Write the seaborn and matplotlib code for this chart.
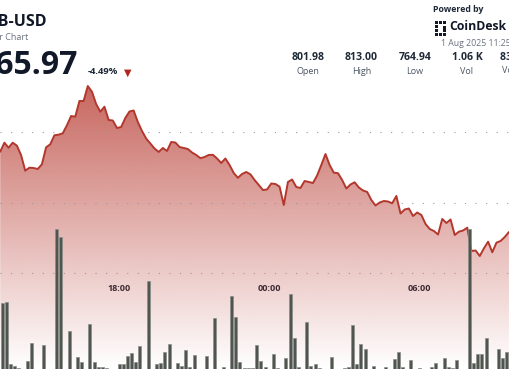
import numpy as np
import pandas as pd
import seaborn as sns
import matplotlib.pyplot as plt
from matplotlib.patches import Rectangle

# BNB-USD, 10 minute samples starting 13:15 (hours since midnight of the first day)
start_hour = 13.25
price = [794.43, 796.98, 795.56, 796.98, 796.13, 793.50, 789.06, 789.91, 789.82, 789.54,
         790.87, 795.67, 796.52, 799.07, 799.24, 799.63, 801.89, 804.52, 804.33, 808.76,
         808.76, 813.00, 811.39, 807.92, 805.74, 807.15, 803.39, 803.25, 801.13, 801.41,
         803.96, 805.80, 806.08, 802.83, 800.28, 798.16, 796.75, 795.34, 794.35, 795.48,
         794.63, 797.17, 797.03, 795.76, 795.48, 795.19, 794.20, 793.50, 792.59, 792.93,
         793.50, 793.55, 792.51, 791.24, 792.51, 790.67, 788.41, 787.05, 788.13, 788.69,
         788.04, 786.43, 785.02, 783.60, 783.75, 785.44, 785.30, 784.54, 779.36, 785.87,
         786.57, 784.45, 784.17, 786.15, 785.87, 785.58, 787.70, 790.67, 793.78, 790.67,
         788.49, 788.35, 786.43, 784.03, 785.16, 785.78, 784.31, 783.46, 783.04, 780.78,
         779.22, 780.07, 780.49, 780.35, 779.84, 781.91, 776.96, 778.09, 778.37, 776.25,
         777.24, 776.54, 773.99, 772.58, 772.01, 771.02, 775.41, 774.27, 775.26, 770.88,
         771.82, 772.15, 772.95, 766.36, 766.50, 764.94, 767.12, 768.99, 765.99, 768.71,
         769.19, 770.32, 771.73]

# volume per 10 minute bar (arbitrary units)
volume = [65.7, 67.3, 5.0, 3.0, 1.3, 0.5, 8.3, 25.7, 0.5, 0.5,
          24.0, 0.5, 0.5, 139.7, 132.3, 0.5, 38.3, 0.5, 11.7, 6.7,
          0.5, 44.7, 7.3, 2.0, 2.0, 1.5, 0.5, 0.5, 5.0, 5.0,
          13.0, 15.7, 6.7, 23.0, 0.5, 88.0, 0.5, 4.7, 6.0, 16.7,
          24.7, 0.5, 5.7, 3.3, 19.3, 2.3, 14.0, 0.5, 0.5, 13.0,
          0.5, 50.7, 0.5, 2.0, 0.5, 73.0, 51.7, 7.3, 1.5, 1.5,
          1.0, 24.3, 8.3, 2.3, 0.5, 14.7, 1.0, 0.5, 10.7, 75.0,
          30.7, 2.0, 0.5, 47.0, 3.0, 5.0, 1.0, 0.5, 0.5, 12.3,
          0.5, 0.5, 1.0, 2.0, 44.0, 5.0, 25.0, 19.7, 0.5, 3.0,
          0.5, 0.5, 2.0, 0.5, 10.0, 16.7, 2.0, 0.5, 9.0, 0.5,
          1.0, 0.5, 0.5, 2.0, 5.7, 0.5, 10.7, 2.0, 1.0, 9.0,
          0.5, 0.5, 139.7, 5.7, 14.7, 15.0, 30.7, 0.5, 0.5, 20.0,
          10.7, 16.7]

tick_hours = [18, 24, 30]
tick_labels = ['18:00', '00:00', '06:00']
grid_prices = [800, 780, 760]

stat_values = ['801.98', '813.00', '764.94', '1.06 K', '832.10 K']
stat_names = ['Open', 'High', 'Low', 'Vol', 'Vol (USD)']

line_df = pd.DataFrame({'hour': start_hour + np.arange(len(price)) / 6, 'price': price})
bar_df = pd.DataFrame({'hour': start_hour + (np.arange(len(volume)) + 0.5) / 6, 'volume': volume})

sns.set_style('white')
plt.rcParams['font.family'] = ['Open Sans', 'DejaVu Sans']

fig = plt.figure(figsize=(5.1, 3.69), dpi=100)
ax = fig.add_axes([0, 0, 1, 1])
ax.set_facecolor('none')

ybot, ytop = 733.0, 837.31
xmin, xmax = 13.2417, 33.625

# area under the price line with a vertical red gradient
fill = ax.fill_between(line_df['hour'], line_df['price'], ybot, color='none', lw=0)
grad = np.zeros((256, 1, 4))
grad[..., 0] = 180 / 255
grad[..., 1] = 48 / 255
grad[..., 2] = 38 / 255
grad[..., 3] = np.linspace(0.0, 0.8, 256)[:, None]
im = ax.imshow(grad, extent=[xmin, xmax, ybot, 820], origin='lower',
               aspect='auto', zorder=1, interpolation='bilinear')
im.set_clip_path(fill.get_paths()[0], ax.transData)

for g in grid_prices:
    ax.axhline(g, color='#9a9a9a', lw=0.8, ls=(0, (1, 8.5)), zorder=2)

sns.lineplot(data=line_df, x='hour', y='price', ax=ax, color='#b3372c',
             lw=1.4, zorder=4)

ax.set_xlim(xmin, xmax)
ax.set_ylim(ybot, ytop)
for s in ax.spines.values():
    s.set_visible(False)
ax.spines['bottom'].set_position(('data', 760))
ax.set_yticks([])
ax.tick_params(axis='x', length=1.5, width=0.8, color='#999999', pad=6)
ax.set_xlabel('')
ax.set_ylabel('')

# volume bars on their own scale
ax2 = ax.twinx()
sns.barplot(data=bar_df, x='hour', y='volume', ax=ax2, native_scale=True,
            width=0.72, color='#50554f', edgecolor='#8a8e89', linewidth=0.5,
            errorbar=None, saturation=1)
ax2.set_ylim(0, 369)
ax2.set_xlim(xmin, xmax)
ax2.axis('off')
ax.set_xticks(tick_hours)
ax.set_xticklabels(tick_labels, fontsize=6.5, fontweight='bold', color='#1f2937')

# header
W, H = 510, 369
def px(x, y):
    return x / W, 1 - y / H

fig.text(*px(47, 22), 'BNB-USD', ha='right', va='center', fontsize=11.5,
         fontweight='bold', color='#111827')
fig.text(*px(28, 37), '24 Hour Chart', ha='right', va='center', fontsize=6.5,
         color='#6b7280')
fig.text(*px(78, 65), '765.97', ha='right', va='center', fontsize=23,
         fontweight='bold', color='#111827')
fig.text(*px(88, 72), '-4.49%', ha='left', va='center', fontsize=6.8,
         fontweight='bold', color='#1f2937')
fig.text(*px(128, 72.5), '\u25BC', ha='center', va='center', fontsize=7,
         color='#b3261e', family='DejaVu Sans')

fig.text(*px(433, 10), 'Powered by', ha='left', va='center', fontsize=6.3,
         fontweight='bold', color='#1f2937')
fig.text(*px(449, 27), 'CoinDesk', ha='left', va='center', fontsize=8.8,
         fontweight='bold', color='#111827')
for cx, cy in [(435, 21), (439, 21), (443, 21), (435, 25), (435, 29), (435, 33),
               (439, 33), (443, 33), (443, 26), (443, 29)]:
    fig.add_artist(Rectangle(px(cx, cy + 3), 3 / W, 3 / H, transform=fig.transFigure,
                             color='#111827', lw=0))
fig.text(*px(441, 44), '1 Aug 2025 11:25', ha='left', va='center', fontsize=6.3,
         color='#6b7280')

stat_x = [308, 361.5, 415, 467, 521]
for sx, v, n in zip(stat_x, stat_values, stat_names):
    fig.text(*px(sx, 58), v, ha='center', va='center', fontsize=7.6,
             fontweight='bold', color='#1f2937')
    fig.text(*px(sx, 71), n, ha='center', va='center', fontsize=6.5,
             color='#4b5563')

fig.savefig('out.png', dpi=100)
